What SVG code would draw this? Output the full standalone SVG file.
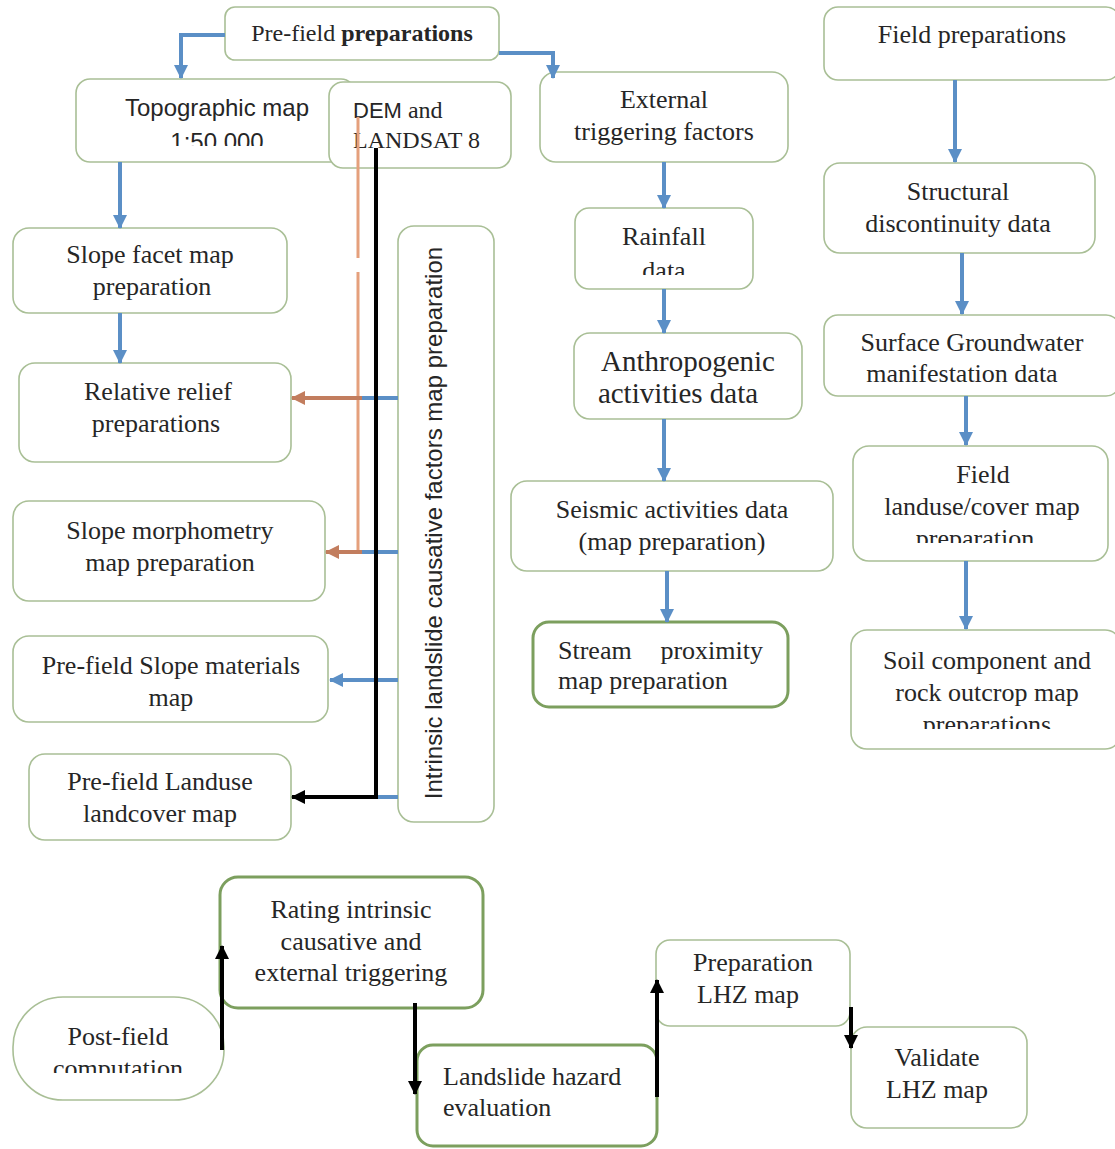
<svg xmlns="http://www.w3.org/2000/svg" width="1115" height="1149" viewBox="0 0 1115 1149">
<style>
.box{fill:#ffffff;stroke:#a9bf96;stroke-width:1.6}
.thick{fill:#ffffff;stroke:#7c9f5e;stroke-width:3}
.t{font-family:"Liberation Serif","Times New Roman",serif;font-size:26px;fill:#262626;text-anchor:middle}
.tl{font-family:"Liberation Serif","Times New Roman",serif;font-size:26px;fill:#262626}
.s{font-family:"Liberation Sans",Arial,sans-serif;font-size:24px;fill:#262626;text-anchor:middle}
.blue{fill:none;stroke:#5b8fc6;stroke-width:4}
.orange{fill:none;stroke:#e5a07c;stroke-width:3}
.brown{fill:none;stroke:#c27d5e;stroke-width:4}
.black{fill:none;stroke:#000000;stroke-width:4}
</style>
<defs>
<marker id="ab" markerUnits="userSpaceOnUse" markerWidth="14" markerHeight="14" refX="13" refY="7" orient="auto"><path d="M0,0 L14,7 L0,14 z" fill="#5b8fc6"/></marker>
<marker id="ao" markerUnits="userSpaceOnUse" markerWidth="14" markerHeight="14" refX="13" refY="7" orient="auto"><path d="M0,0 L14,7 L0,14 z" fill="#c27d5e"/></marker>
<marker id="ak" markerUnits="userSpaceOnUse" markerWidth="14" markerHeight="14" refX="13" refY="7" orient="auto"><path d="M0,0 L14,7 L0,14 z" fill="#000000"/></marker>
<clipPath id="c1"><rect x="0" y="0" width="1115" height="146"/></clipPath>
<clipPath id="c2"><rect x="0" y="0" width="1115" height="275"/></clipPath>
<clipPath id="c3"><rect x="0" y="0" width="1115" height="543"/></clipPath>
<clipPath id="c4"><rect x="0" y="0" width="1115" height="729"/></clipPath>
<clipPath id="c5"><rect x="0" y="0" width="1115" height="1073"/></clipPath>
</defs>
<rect width="1115" height="1149" fill="#ffffff"/>

<g id="n-prefield"><rect class="box" x="225" y="7" width="274" height="53" rx="10"/><text class="t" x="362" y="41" style="font-size:24px">Pre-field <tspan font-weight="bold">preparations</tspan></text></g>
<g id="n-topo"><rect class="box" x="76" y="79" width="279" height="83" rx="14"/><text class="s" x="217" y="116">Topographic map</text><text class="s" x="217" y="150" clip-path="url(#c1)">1:50.000</text></g>
<g id="n-dem"><rect class="box" x="329" y="82" width="182" height="86" rx="14"/><text class="tl" x="353" y="118" style="font-size:24px"><tspan font-family="Liberation Sans, Arial, sans-serif" font-size="22">DEM</tspan> and</text><text class="tl" x="353" y="148" style="font-size:24px">LANDSAT 8</text></g>
<g id="n-external"><rect class="box" x="540" y="72" width="248" height="90" rx="16"/><text class="t" x="664" y="108">External</text><text class="t" x="664" y="140">triggering factors</text></g>
<g id="n-field"><rect class="box" x="824" y="7" width="296" height="73" rx="14"/><text class="t" x="972" y="43">Field preparations</text></g>
<g id="n-facet"><rect class="box" x="13" y="228" width="274" height="85" rx="16"/><text class="t" x="150" y="263">Slope facet map</text><text class="t" x="152" y="295">preparation</text></g>
<g id="n-relief"><rect class="box" x="19" y="363" width="272" height="99" rx="16"/><text class="t" x="158" y="400">Relative relief</text><text class="t" x="156" y="432">preparations</text></g>
<g id="n-morph"><rect class="box" x="13" y="501" width="312" height="100" rx="16"/><text class="t" x="170" y="539">Slope morphometry</text><text class="t" x="170" y="571">map preparation</text></g>
<g id="n-materials"><rect class="box" x="13" y="636" width="315" height="86" rx="16"/><text class="t" x="171" y="674">Pre-field Slope materials</text><text class="t" x="171" y="706">map</text></g>
<g id="n-landuse"><rect class="box" x="29" y="754" width="262" height="86" rx="16"/><text class="t" x="160" y="790">Pre-field Landuse</text><text class="t" x="160" y="822">landcover map</text></g>
<g id="n-intrinsic"><rect class="box" x="398" y="226" width="96" height="596" rx="16"/><text class="s" transform="translate(442,523) rotate(-90)" x="0" y="0">Intrinsic landslide causative factors map preparation</text></g>
<g id="n-rainfall"><rect class="box" x="575" y="208" width="178" height="81" rx="14"/><text class="t" x="664" y="245">Rainfall</text><text class="t" x="664" y="279" clip-path="url(#c2)">data</text></g>
<g id="n-anthro"><rect class="box" x="574" y="333" width="228" height="86" rx="16"/><text class="t" x="688" y="371" style="font-size:29px">Anthropogenic</text><text class="t" x="678" y="403" style="font-size:29px">activities data</text></g>
<g id="n-seismic"><rect class="box" x="511" y="481" width="322" height="90" rx="16"/><text class="t" x="672" y="518">Seismic activities data</text><text class="t" x="672" y="550">(map preparation)</text></g>
<g id="n-stream"><rect class="thick" x="533" y="622" width="255" height="85" rx="16"/><text class="tl" x="558" y="659">Stream</text><text class="tl" x="763" y="659" text-anchor="end">proximity</text><text class="tl" x="558" y="689">map preparation</text></g>
<g id="n-structural"><rect class="box" x="824" y="163" width="271" height="90" rx="16"/><text class="t" x="958" y="200">Structural</text><text class="t" x="958" y="232">discontinuity data</text></g>
<g id="n-surface"><rect class="box" x="824" y="315" width="296" height="81" rx="14"/><text class="t" x="972" y="351">Surface Groundwater</text><text class="t" x="962" y="382">manifestation data</text></g>
<g id="n-fieldlanduse"><rect class="box" x="853" y="446" width="255" height="115" rx="16"/><text class="t" x="983" y="483">Field</text><text class="t" x="982" y="515">landuse/cover map</text><text class="t" x="975" y="547" clip-path="url(#c3)">preparation</text></g>
<g id="n-soil"><rect class="box" x="851" y="630" width="270" height="119" rx="16"/><text class="t" x="987" y="669">Soil component and</text><text class="t" x="987" y="701">rock outcrop map</text><text class="t" x="987" y="733" clip-path="url(#c4)">preparations</text></g>
<g id="n-postfield"><rect class="box" x="13" y="997" width="211" height="103" rx="50"/><text class="t" x="118" y="1045">Post-field</text><text class="t" x="118" y="1077" clip-path="url(#c5)">computation</text></g>
<g id="n-rating"><rect class="thick" x="220" y="877" width="263" height="131" rx="18"/><text class="t" x="351" y="918">Rating intrinsic</text><text class="t" x="351" y="950">causative and</text><text class="t" x="351" y="981">external triggering</text></g>
<g id="n-hazard"><rect class="thick" x="417" y="1045" width="240" height="101" rx="16"/><text class="tl" x="443" y="1085">Landslide hazard</text><text class="tl" x="443" y="1116">evaluation</text></g>
<g id="n-prep"><rect class="box" x="656" y="940" width="194" height="86" rx="14"/><text class="t" x="753" y="971">Preparation</text><text class="t" x="748" y="1003">LHZ map</text></g>
<g id="n-validate"><rect class="box" x="851" y="1027" width="176" height="101" rx="16"/><text class="t" x="937" y="1066">Validate</text><text class="t" x="937" y="1098">LHZ map</text></g>

<g id="connectors">
<path class="blue" d="M225,35 H181 V78" marker-end="url(#ab)"/>
<path class="blue" d="M499,53 H553 V78" marker-end="url(#ab)"/>
<path class="blue" d="M120,162 V228" marker-end="url(#ab)"/>
<path class="blue" d="M120,313 V363" marker-end="url(#ab)"/>
<path class="blue" d="M664,162 V208" marker-end="url(#ab)"/>
<path class="blue" d="M664,289 V333" marker-end="url(#ab)"/>
<path class="blue" d="M664,419 V481" marker-end="url(#ab)"/>
<path class="blue" d="M667,571 V622" marker-end="url(#ab)"/>
<path class="blue" d="M955,80 V162" marker-end="url(#ab)"/>
<path class="blue" d="M962,253 V314" marker-end="url(#ab)"/>
<path class="blue" d="M966,396 V445" marker-end="url(#ab)"/>
<path class="blue" d="M966,561 V629" marker-end="url(#ab)"/>
<path class="orange" d="M358,117 V552"/>
<rect x="356" y="258" width="16" height="14" fill="#ffffff"/>
<path class="blue" d="M398,398 H360"/>
<path class="brown" d="M362,398 H292" marker-end="url(#ao)"/>
<path class="blue" d="M398,552 H360"/>
<path class="brown" d="M362,552 H326" marker-end="url(#ao)"/>
<path class="blue" d="M398,680 H330" marker-end="url(#ab)"/>
<path class="blue" d="M398,797 H376"/>
<path class="black" d="M376,148 V797 H292" marker-end="url(#ak)"/>
<path class="black" stroke-width="3" d="M222,1050 V946" marker-end="url(#ak)"/>
<path class="black" stroke-width="3" d="M415,1003 V1094" marker-end="url(#ak)"/>
<path class="black" stroke-width="3" d="M657,1097 V980" marker-end="url(#ak)"/>
<path class="black" stroke-width="3" d="M851,1007 V1048" marker-end="url(#ak)"/>
</g>
</svg>
